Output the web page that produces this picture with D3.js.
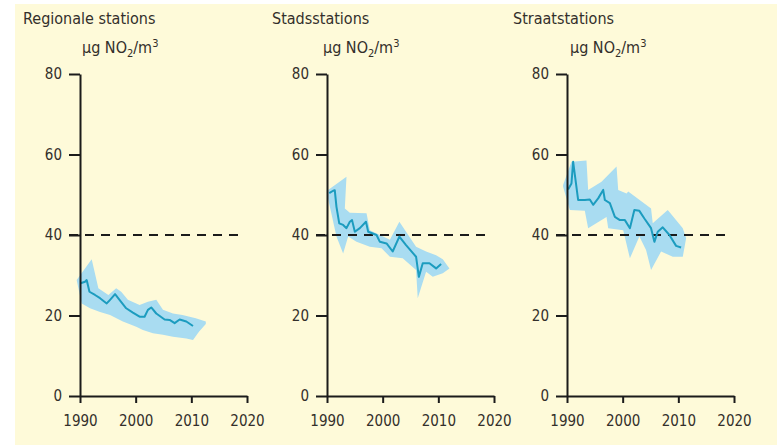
<!DOCTYPE html>
<html><head><meta charset="utf-8">
<script src="https://cdn.jsdelivr.net/npm/d3@7"></script>
<style>
html,body{margin:0;padding:0;background:#fff;}
svg{display:block;}
text{font-family:"DejaVu Sans Condensed","DejaVu Sans",sans-serif;font-stretch:condensed;fill:#332f2b;}
</style></head>
<body>
<svg id="c" width="777" height="445"></svg>
<script>
// ---- data ----
const panelTitles = ["Regionale stations", "Stadsstations", "Straatstations"];
const yTicks = [0, 20, 40, 60, 80];
const xTicks = [1990, 2000, 2010, 2020];
const limitValue = 40;

const regLine = [[1990.1,28.0],[1990.9,28.4],[1991.2,28.8],[1991.7,25.9],[1992.7,25.1],[1993.6,24.3],[1994.8,23.0],[1995.4,23.9],[1996.3,25.3],[1997.1,23.9],[1998.3,21.8],[1999.5,20.7],[2000.7,19.7],[2001.6,19.7],[2002.2,21.4],[2002.8,22.0],[2003.7,20.5],[2005.2,19.0],[2006.1,18.9],[2007.0,18.1],[2007.9,19.0],[2009.1,18.5],[2010.3,17.4]];
const regUpper = [[1989.4,28.8],[1992.1,34.0],[1993.3,26.8],[1995.1,25.1],[1996.5,26.8],[1997.4,25.9],[1998.6,23.9],[2000.7,22.6],[2002.2,23.4],[2003.7,23.9],[2004.9,21.4],[2006.7,20.5],[2008.4,20.1],[2010.8,19.3],[2012.6,18.5]];
const regLower = [[1990.3,23.0],[1991.8,21.8],[1993.6,20.9],[1995.4,20.1],[1997.7,18.5],[2000.1,17.2],[2001.3,16.4],[2003.1,15.6],[2004.9,15.2],[2006.7,14.7],[2009.1,14.3],[2010.3,13.9],[2011.4,16.0],[2012.6,17.9]];

const cityLine = [[1990.4,50.4],[1991.1,51.0],[1991.4,51.1],[1991.7,47.0],[1992.2,42.9],[1992.9,42.5],[1993.5,41.7],[1994.1,43.3],[1994.5,43.7],[1995.0,40.8],[1995.9,41.7],[1997.0,43.3],[1997.4,40.8],[1998.9,40.0],[1999.5,38.3],[2000.7,37.9],[2001.8,35.9],[2003.0,39.6],[2004.2,37.5],[2006.0,34.6],[2006.5,29.6],[2007.2,33.0],[2008.4,33.0],[2009.6,31.7],[2010.5,32.8]];
const cityUpper = [[1990.2,51.2],[1993.5,54.5],[1993.2,46.6],[1994.1,45.5],[1997.1,45.4],[1997.7,41.2],[1999.5,40.0],[2001.3,38.8],[2003.0,43.3],[2004.2,40.8],[2006.0,37.1],[2007.8,35.9],[2009.6,35.0],[2010.8,34.0],[2012.0,31.7]];
const cityLower = [[1990.2,49.0],[1991.7,39.6],[1992.9,35.4],[1993.8,39.6],[1995.3,38.3],[1997.7,37.1],[1999.8,36.7],[2001.3,34.6],[2003.6,34.2],[2006.0,31.3],[2006.3,24.3],[2007.8,30.9],[2009.0,29.6],[2010.8,30.5],[2012.0,31.7]];

const streetLine = [[1990.2,51.3],[1990.8,52.8],[1991.1,58.2],[1992.0,48.7],[1993.2,48.7],[1994.1,48.8],[1994.7,47.5],[1995.6,49.1],[1996.5,51.2],[1996.8,48.7],[1997.7,47.9],[1998.6,44.5],[1999.5,43.7],[2000.4,43.7],[2001.3,41.7],[2002.1,46.2],[2003.0,46.0],[2003.9,44.1],[2005.1,41.7],[2005.7,38.3],[2006.3,40.8],[2007.2,41.9],[2008.4,40.0],[2009.6,37.3],[2010.5,36.9]];
const streetUpper = [[1989.3,52.4],[1990.8,58.2],[1993.5,58.5],[1993.8,51.2],[1996.2,53.2],[1998.9,57.0],[1999.2,51.2],[2000.7,50.3],[2001.0,50.8],[2005.1,46.6],[2005.4,42.9],[2008.1,46.2],[2010.8,41.7],[2011.4,39.2]];
const streetLower = [[1989.3,52.0],[1990.5,46.2],[1993.2,46.0],[1993.8,41.7],[1997.1,44.5],[1997.4,41.7],[2000.1,41.2],[2001.3,34.2],[2003.0,39.6],[2004.2,36.3],[2005.1,31.3],[2006.9,35.9],[2009.0,34.6],[2010.8,34.6],[2011.4,39.2]];

const seriesLines = [regLine, cityLine, streetLine];
const seriesUpper = [regUpper, cityUpper, streetUpper];
const seriesLower = [regLower, cityLower, streetLower];

// ---- layout ----
const W = 777, H = 445;
const axisX = [80, 327, 567];
const titleX = [23, 272, 513];
const unitX = [82, 323, 570];
const plotW = 167;
const yTop = 74, yBot = 396;
const FONT = "'DejaVu Sans Condensed','DejaVu Sans',sans-serif";

const svg = d3.select("#c");
svg.append("rect").attr("x",0).attr("y",0).attr("width",W).attr("height",H).attr("fill","#ffffff");
svg.append("rect").attr("x",15).attr("y",4).attr("width",W-15).attr("height",H-4).attr("fill","#fefad9");

const y = d3.scaleLinear().domain([0,80]).range([yBot, yTop]);

panelTitles.forEach((title, i) => {
  const x0 = axisX[i];
  const x = d3.scaleLinear().domain([1990,2020]).range([x0, x0+plotW]);
  const g = svg.append("g");

  // band
  const poly = seriesUpper[i].concat(seriesLower[i].slice().reverse());
  const lineGen = d3.line().x(d => x(d[0])).y(d => y(d[1]));
  g.append("path").attr("d", lineGen(poly) + "Z").attr("fill","#a9dcf1").attr("stroke","none");

  // dashed limit line
  g.append("line").attr("x1", x0-11).attr("x2", x(2019.1)).attr("y1", y(limitValue)).attr("y2", y(limitValue))
    .attr("stroke","#1b1b1b").attr("stroke-width",2.2).attr("stroke-dasharray","9,7");

  // series line
  g.append("path").attr("d", lineGen(seriesLines[i])).attr("fill","none")
    .attr("stroke","#1c9cbf").attr("stroke-width",2).attr("stroke-linejoin","round");

  // axes
  const ya = g.append("g").attr("transform",`translate(${x0},0)`)
    .call(d3.axisLeft(y).tickValues(yTicks).tickSize(11).tickSizeOuter(0).tickPadding(7));
  const xa = g.append("g").attr("transform",`translate(0,${yBot})`)
    .call(d3.axisBottom(x).tickValues(xTicks).tickFormat(d3.format("d")).tickSize(7).tickSizeOuter(0).tickPadding(12));
  [ya, xa].forEach(a => {
    a.selectAll("path.domain").attr("stroke","#1b1b1b").attr("stroke-width",2);
    a.selectAll(".tick line").attr("stroke","#1b1b1b").attr("stroke-width",2);
    a.selectAll("text").style("font-family",FONT).style("font-stretch","condensed").style("font-size","15px").attr("fill","#332f2b");
  });

  // title
  svg.append("text").attr("x", titleX[i]).attr("y", 24).style("font-size","16px").text(title);
  // unit
  const u = svg.append("text").attr("x", unitX[i]).attr("y", 53).style("font-size","16px");
  u.append("tspan").text("µg NO");
  u.append("tspan").attr("dy", 4).style("font-size","11px").text("2");
  u.append("tspan").attr("dy", -4).text("/m");
  u.append("tspan").attr("dy", -6).style("font-size","11px").text("3");
});
</script>
</body></html>
